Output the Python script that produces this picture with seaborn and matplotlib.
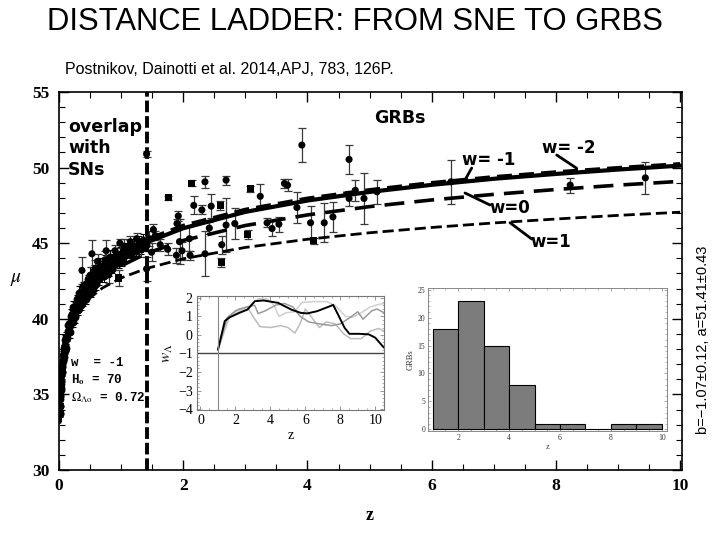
import numpy as np
import pandas as pd
import matplotlib
matplotlib.use("Agg")
import matplotlib.pyplot as plt
from matplotlib.lines import Line2D
from matplotlib.ticker import MultipleLocator
import seaborn as sns

sns.set_theme(style="ticks")
plt.rcParams["font.family"] = ["Liberation Serif", "DejaVu Serif"]
plt.rcParams["mathtext.fontset"] = "stix"
for k in ["text.color", "axes.labelcolor", "xtick.color", "ytick.color", "xtick.labelcolor", "ytick.labelcolor"]:
    plt.rcParams[k] = "black"

# ---------------- data ----------------
model_z = [0.01, 0.02, 0.05, 0.1, 0.2, 0.3, 0.5, 0.7, 1.0, 1.4, 2, 3, 4, 5, 6, 7, 8, 9, 10]
mu_w_m2 = [33.18, 34.71, 36.77, 38.38, 40.06, 41.09, 42.45, 43.35, 44.31, 45.21, 46.15, 47.21, 47.95, 48.51, 48.98, 49.37, 49.69, 49.97, 50.23]
mu_w_m1 = [33.18, 34.70, 36.74, 38.32, 39.96, 40.96, 42.28, 43.17, 44.13, 45.04, 45.99, 47.07, 47.82, 48.39, 48.86, 49.26, 49.58, 49.87, 50.13]
mu_w_0 = [33.16, 34.68, 36.68, 38.21, 39.76, 40.68, 41.86, 42.65, 43.50, 44.31, 45.18, 46.17, 46.87, 47.42, 47.86, 48.23, 48.55, 48.84, 49.09]
mu_w_1 = [33.15, 34.65, 36.62, 38.11, 39.56, 40.38, 41.39, 42.04, 42.70, 43.32, 43.97, 44.72, 45.26, 45.69, 46.04, 46.34, 46.60, 46.84, 47.05]

sn_z = [0.012, 0.014, 0.015, 0.017, 0.019, 0.021, 0.023, 0.025, 0.028, 0.030, 0.033, 0.036, 0.040, 0.043, 0.047,
        0.050, 0.055, 0.060, 0.065, 0.070, 0.075, 0.080, 0.085, 0.090, 0.095,
        0.10, 0.11, 0.12, 0.13, 0.14, 0.15, 0.16, 0.17, 0.18, 0.19, 0.20, 0.21, 0.22, 0.23, 0.24, 0.25,
        0.26, 0.27, 0.28, 0.29, 0.30, 0.31, 0.32, 0.33, 0.34, 0.35, 0.36, 0.37, 0.38, 0.39, 0.40, 0.41,
        0.42, 0.43, 0.44, 0.45, 0.46, 0.47, 0.48, 0.49, 0.50, 0.51, 0.52, 0.53, 0.54, 0.55, 0.56, 0.57,
        0.58, 0.59, 0.60,
        0.62, 0.64, 0.66, 0.68, 0.70, 0.72, 0.74, 0.76, 0.78, 0.80, 0.82, 0.84, 0.86, 0.88, 0.90,
        0.93, 0.96, 0.99, 1.02, 1.05, 1.08,
        1.12, 1.16, 1.20, 1.24, 1.28, 1.32, 1.36, 1.40]
sn_mu = [33.7, 33.8, 34.2, 34.2, 34.7, 34.9, 34.9, 35.3, 35.4, 35.7, 35.9, 35.9, 36.3, 36.5, 36.5,
         36.9, 36.8, 37.3, 37.2, 37.6, 37.5, 37.9, 38.1, 37.9, 38.3,
         38.6, 38.1, 38.8, 38.7, 39.6, 39.2, 39.6, 39.1, 39.7, 40.2, 39.7, 40.3, 39.8, 40.8, 40.3, 40.8,
         40.1, 40.8, 40.6, 41.3, 40.6, 41.2, 40.8, 41.7, 41.3, 40.9, 41.7, 41.3, 42.2, 41.2, 41.8, 41.5,
         42.2, 41.3, 42.2, 41.9, 42.6, 41.7, 42.5, 42.0, 42.9, 41.8, 42.5, 42.1, 42.9, 42.5, 42.2, 43.1,
         42.5, 42.9, 42.3,
         43.1, 42.6, 43.5, 43.0, 43.4, 42.8, 43.7, 43.2, 43.8, 43.2, 44.1, 43.7, 43.3, 44.1, 43.6,
         44.3, 43.7, 44.3, 43.8, 44.6, 44.2,
         44.8, 44.2, 44.8, 44.5, 45.1, 44.6, 45.2, 44.9]
sn_err = [0.2, 0.15, 0.25, 0.2, 0.3, 0.2, 0.15, 0.25, 0.2, 0.3, 0.2, 0.25, 0.15, 0.3, 0.2,
          0.25, 0.2, 0.3, 0.15, 0.25, 0.2, 0.3, 0.2, 0.25, 0.3,
          0.3, 0.25, 0.35, 0.2, 0.4, 0.3, 0.25, 0.35, 0.3, 0.45, 0.25, 0.3, 0.35, 0.4, 0.2, 0.3,
          0.35, 0.25, 0.4, 0.3, 0.35, 0.25, 0.3, 0.45, 0.2, 0.35, 0.3, 0.4, 0.25, 0.35, 0.3, 0.4,
          0.25, 0.35, 0.3, 0.45, 0.3, 0.25, 0.4, 0.3, 0.5, 0.35, 0.3, 0.25, 0.4, 0.3, 0.35, 0.45,
          0.3, 0.35, 0.4,
          0.4, 0.35, 0.5, 0.3, 0.45, 0.35, 0.5, 0.3, 0.4, 0.35, 0.45, 0.4, 0.3, 0.45, 0.35,
          0.4, 0.35, 0.45, 0.3, 0.4, 0.35,
          0.4, 0.3, 0.45, 0.35, 0.4, 0.3, 0.4, 0.35]

grb_z = [0.37, 0.39, 0.53, 0.58, 0.62, 0.74, 0.76, 0.80, 0.90, 0.96, 0.98, 1.05, 1.15, 1.25, 1.32,
         1.41, 1.41, 1.45, 1.49, 1.52, 1.55, 1.63, 1.75, 1.76, 1.89,
         1.90, 1.92, 1.94, 1.98, 2.10, 2.11, 2.14, 2.17, 2.30, 2.35,
         2.35, 2.42, 2.45, 2.60, 2.61, 2.62, 2.69, 2.69, 2.83, 3.04,
         3.08, 3.24, 3.35, 3.43, 3.54, 3.63, 3.68, 3.83, 3.91, 4.05,
         4.10, 4.27, 4.41, 4.67, 4.67, 4.77, 4.91, 5.12, 6.31, 8.23, 9.44]
grb_mu = [43.2, 41.45, 44.3, 43.3, 43.8, 43.9, 44.5, 42.9, 44.5, 42.7, 45.0, 44.8, 45.1, 45.3, 44.6,
          50.9, 43.3, 45.3, 44.4, 45.9, 45.5, 44.9, 44.6, 48.0, 44.2,
          46.3, 46.8, 45.1, 44.5, 45.3, 44.2, 48.95, 47.5, 47.2, 49.06,
          44.3, 46.0, 47.45, 47.5, 43.7, 44.9, 49.17, 46.2, 46.3, 45.6,
          48.6, 48.1, 46.35, 45.97, 46.26, 48.95, 48.84, 47.36, 51.49, 46.35,
          45.15, 46.35, 46.74, 50.54, 47.96, 48.5, 47.96, 48.4, 49.06, 48.84, 49.32]
grb_err = [0.9, 0.4, 0.9, 0.6, 0.5, 0.6, 0.7, 0.5, 0.4, 0.55, 0.3, 0.5, 0.4, 0.4, 0.5,
           0.2, 0.8, 0.5, 0.6, 0.4, 0.3, 0.4, 0.4, 0.15, 0.5,
           0.3, 0.3, 1.5, 0.6, 0.8, 0.3, 0.2, 0.6, 0.3, 0.4,
           1.5, 0.4, 0.8, 0.3, 0.3, 0.6, 0.3, 1.8, 1.0, 0.3,
           0.2, 0.8, 0.3, 0.5, 0.5, 0.3, 0.4, 1.0, 1.1, 1.1,
           0.2, 1.3, 1.0, 0.95, 0.5, 0.7, 1.7, 0.8, 1.45, 0.5, 1.05]
grb_marker = list("ooooooooosooooo" + "ooooooooso" + "oooooosooo" + "ooossoooos"
                  + "sooooooooo" + "sooooooooo" + "o")

z_overlap = 1.42

# inset: w_Lambda reconstruction
wl_black_z = [1.0, 1.39, 1.67, 2.22, 2.69, 3.11, 3.61, 4.44, 5.19, 5.74, 6.11, 6.67, 7.41, 7.59, 7.87, 8.24, 8.52, 9.07, 9.63, 10.0, 10.5]
wl_black_w = [-0.8, 0.75, 0.95, 1.19, 1.37, 1.82, 1.86, 1.73, 1.37, 1.19, 1.16, 1.28, 1.55, 1.62, 1.1, 0.39, 0.06, 0.06, 0.03, -0.15, -0.69]
wl_a_z = [1.0, 1.5, 2.0, 2.6, 3.1, 3.3, 3.7, 4.3, 4.8, 5.3, 5.7, 6.2, 6.8, 7.5, 8.0, 8.5, 9.0, 9.3, 9.8, 10.1, 10.5]
wl_a_w = [-0.8, 0.9, 1.3, 1.5, 1.6, 1.15, 1.3, 1.6, 1.7, 1.5, 1.0, 0.7, 0.6, 0.5, 0.6, 0.9, 1.25, 0.85, 1.3, 1.4, 1.2]
wl_b_z = [1.0, 1.6, 2.2, 2.7, 3.0, 3.4, 4.0, 4.6, 5.0, 5.4, 5.7, 6.0, 6.4, 6.8, 7.2, 7.7, 8.2, 8.6, 9.2, 9.7, 10.2, 10.5]
wl_b_w = [-0.8, 1.0, 1.4, 1.5, 1.0, 0.45, 0.4, 0.5, 0.4, 0.1, 0.6, 1.4, 0.9, 0.4, 0.7, 0.6, 0.05, -0.2, -0.2, 0.2, 0.35, 0.2]
wl_c_z = [1.0, 1.7, 2.3, 2.8, 3.3, 3.8, 4.2, 4.5, 4.9, 5.4, 5.8, 6.5, 7.2, 7.7, 8.3, 8.7, 9.2, 9.7, 10.2, 10.5]
wl_c_w = [-0.8, 1.05, 1.3, 1.55, 1.95, 1.95, 1.6, 1.0, 1.2, 1.25, 1.75, 1.8, 1.8, 1.6, 1.0, 0.95, 1.2, 1.5, 1.65, 1.7]

# inset: GRB redshift histogram
hist_bin_left = [1, 2, 3, 4, 5, 6, 7, 8, 9]
hist_counts = [18, 23, 15, 8, 1, 1, 0, 1, 1]

# ---------------- figure ----------------
W, H = 720, 540
fig = plt.figure(figsize=(7.2, 5.4), dpi=100)
fig.patch.set_facecolor("white")


def fp(x, y):
    return (x / W, 1 - y / H)


def box(l, t, r, b):
    return [l / W, 1 - b / H, (r - l) / W, (b - t) / H]


ax = fig.add_axes(box(59, 92, 682, 470))
ax.set_facecolor("white")

# error bars
ax.errorbar(sn_z, sn_mu, yerr=sn_err, fmt="none", ecolor="black", elinewidth=0.8,
            capsize=2, capthick=0.8, zorder=2)
ax.errorbar(grb_z, grb_mu, yerr=grb_err, fmt="none", ecolor="#3a3a3a", elinewidth=0.9,
            capsize=2.6, capthick=0.9, zorder=2)

sn_df = pd.DataFrame({"z": sn_z, "mu": sn_mu})
sns.scatterplot(data=sn_df, x="z", y="mu", color="black", s=32, linewidth=0, ax=ax, zorder=3, legend=False)
grb_df = pd.DataFrame({"z": grb_z, "mu": grb_mu, "m": grb_marker})
sns.scatterplot(data=grb_df, x="z", y="mu", style="m", markers={"o": "o", "s": "s"},
                color="black", s=26, linewidth=0, ax=ax, zorder=3, legend=False)

# model curves
sns.lineplot(x=model_z, y=mu_w_1, color="black", lw=2.0, linestyle=(0, (4.0, 1.8)), ax=ax, zorder=4)
sns.lineplot(x=model_z, y=mu_w_0, color="black", lw=2.6, linestyle=(0, (5.5, 2.8)), ax=ax, zorder=4)
sns.lineplot(x=model_z, y=mu_w_m1, color="black", lw=3.0, ax=ax, zorder=4)
sns.lineplot(x=model_z, y=mu_w_m2, color="black", lw=3.0, linestyle=(0, (3.6, 1.7)), ax=ax, zorder=4)

ax.axvline(z_overlap, color="black", lw=2.8, linestyle=(0, (3, 1)), zorder=5)

ax.set_xlim(0, 10.03)
ax.set_ylim(30, 55)
ax.xaxis.set_major_locator(MultipleLocator(2))
ax.xaxis.set_minor_locator(MultipleLocator(0.5))
ax.yaxis.set_major_locator(MultipleLocator(5))
ax.yaxis.set_minor_locator(MultipleLocator(1))
ax.tick_params(which="both", direction="in", top=True, right=True, color="black")
ax.tick_params(which="major", length=7, width=1.0)
ax.tick_params(which="minor", length=4, width=0.8)
ax.tick_params(axis="x", which="major", labelsize=12.5, pad=6)
ax.tick_params(axis="y", which="major", labelsize=12.5, pad=7)
for lab in ax.get_xticklabels() + ax.get_yticklabels():
    lab.set_fontweight("bold")
for sp in ax.spines.values():
    sp.set_linewidth(1.2)
    sp.set_color("black")
ax.set_xlabel("")
ax.set_ylabel("")

fig.text(*fp(370, 515), "z", ha="center", va="center", fontsize=13, fontweight="bold")
fig.text(*fp(16, 280), r"$\mu$", ha="center", va="center", fontsize=14)

# annotations in plot
ann_font = dict(family=["DejaVu Sans"], fontweight="bold", color="black")
fig.text(*fp(68, 148), "overlap\nwith\nSNs", ha="left", va="center", fontsize=12.5,
         linespacing=1.25, **ann_font)
fig.text(*fp(400, 118), "GRBs", ha="center", va="center", fontsize=12.5, **ann_font)
fig.text(*fp(489, 160), "w= -1", ha="center", va="center", fontsize=12, **ann_font)
fig.text(*fp(569, 148), "w= -2", ha="center", va="center", fontsize=12, **ann_font)
fig.text(*fp(510, 208), "w=0", ha="center", va="center", fontsize=12, **ann_font)
fig.text(*fp(551, 242), "w=1", ha="center", va="center", fontsize=12, **ann_font)
for (x0, y0), (x1, y1) in [((471.7, 168), (465, 180)), ((556.7, 155), (576.7, 168.3)),
                            ((490, 205), (465, 193)), ((531.7, 239), (510, 222.7))]:
    a, b = fp(x0, y0)
    c, d = fp(x1, y1)
    fig.add_artist(Line2D([a, c], [b, d], color="black", lw=2.0, transform=fig.transFigure, zorder=6))

mono = dict(family=["Liberation Mono", "DejaVu Sans Mono"], fontweight="bold", fontsize=9)
fig.text(*fp(71, 363), "w  = -1", ha="left", va="center", **mono)
fig.text(*fp(71, 380), r"H$_{\mathbf{o}}$ = 70", ha="left", va="center", **mono)
fig.text(*fp(71, 398), r"$\Omega_{\Lambda\mathrm{o}}$ = 0.72", ha="left", va="center", **mono)

# title / subtitle / side text
fig.text(*fp(355, 22), "DISTANCE LADDER: FROM SNE TO GRBS", ha="center", va="center",
         fontsize=22.3, color="black", family=["Liberation Sans Narrow", "Liberation Sans"])
fig.text(*fp(65, 70), "Postnikov, Dainotti et al. 2014,APJ, 783, 126P.", ha="left", va="center",
         fontsize=11.5, color="black", family=["Liberation Sans"])
fig.text(*fp(703, 340), "b=\u22121.07\u00b10.12, a=51.41\u00b10.43", ha="center", va="center",
         rotation=90, fontsize=10.5, color="black", family=["Liberation Sans"])

# ---------------- inset 1: w_Lambda ----------------
ax1 = fig.add_axes(box(197, 296, 384, 410))
ax1.set_facecolor("white")
sns.lineplot(x=wl_c_z, y=wl_c_w, color="#d0d0d0", lw=1.1, ax=ax1, sort=False)
sns.lineplot(x=wl_b_z, y=wl_b_w, color="#bdbdbd", lw=1.1, ax=ax1, sort=False)
sns.lineplot(x=wl_a_z, y=wl_a_w, color="#9a9a9a", lw=1.1, ax=ax1, sort=False)
sns.lineplot(x=wl_black_z, y=wl_black_w, color="black", lw=1.4, ax=ax1, sort=False)
ax1.axhline(-1, color="#444444", lw=1.0)
ax1.axvline(1, color="#888888", lw=0.8)
ax1.set_xlim(-0.2, 10.5)
ax1.set_ylim(-4.05, 2.1)
ax1.xaxis.set_major_locator(MultipleLocator(2))
ax1.xaxis.set_minor_locator(MultipleLocator(0.5))
ax1.yaxis.set_major_locator(MultipleLocator(1))
ax1.yaxis.set_minor_locator(MultipleLocator(0.2))
ax1.tick_params(which="both", direction="in", top=True, right=True, color="#888888")
ax1.tick_params(which="major", length=3, width=0.6, labelsize=10, pad=3)
ax1.tick_params(which="minor", length=1.5, width=0.5)
for sp in ax1.spines.values():
    sp.set_linewidth(0.8)
    sp.set_color("#777777")
ax1.set_xlabel("z", fontsize=10, labelpad=1)
ax1.set_ylabel(r"$w_\Lambda$", fontsize=11, labelpad=2)

# ---------------- inset 2: histogram ----------------
ax2 = fig.add_axes(box(428, 288, 667, 431))
ax2.set_facecolor("white")
hist_df = pd.DataFrame({"zc": [b + 0.5 for b in hist_bin_left], "n": hist_counts})
sns.histplot(data=hist_df, x="zc", weights="n", bins=list(range(1, 11)),
             color="#7c7c7c", edgecolor="black", linewidth=0.8, alpha=1.0, ax=ax2)
ax2.set_xlim(0.82, 10.2)
ax2.set_ylim(-0.3, 25.3)
ax2.xaxis.set_major_locator(MultipleLocator(2))
ax2.xaxis.set_minor_locator(MultipleLocator(0.5))
ax2.yaxis.set_major_locator(MultipleLocator(5))
ax2.yaxis.set_minor_locator(MultipleLocator(1))
ax2.tick_params(which="both", direction="in", top=True, right=True, color="#999999")
ax2.tick_params(which="major", length=2.5, width=0.6, labelsize=5.5, pad=2, labelcolor="#333333")
ax2.tick_params(which="minor", length=1.2, width=0.5)
for sp in ax2.spines.values():
    sp.set_linewidth(0.7)
    sp.set_color("#888888")
ax2.set_xlabel("z", fontsize=6, labelpad=1, color="#333333")
ax2.set_ylabel("GRBs", fontsize=6, labelpad=2, color="#333333")

fig.savefig("out.png", dpi=100, facecolor="white")
